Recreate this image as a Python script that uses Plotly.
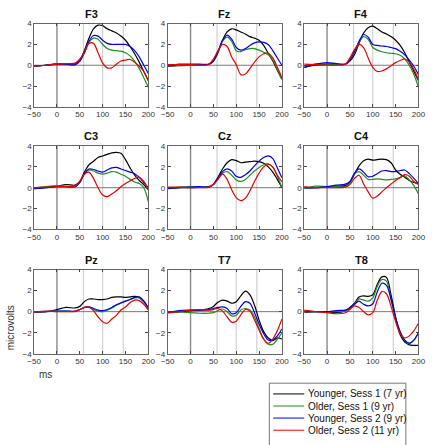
import plotly.graph_objects as go

# ---------------- data ----------------
t = [-50, -25, 0, 20, 40, 50, 60, 70, 80, 90, 100, 110, 120, 130, 140, 150, 160, 170, 180, 190, 200]

channels = ["F3", "Fz", "F4", "C3", "Cz", "C4", "Pz", "T7", "T8"]
series_names = ["Younger, Sess 1 (7 yr)", "Older, Sess 1 (9 yr)",
                "Younger, Sess 2 (9 yr)", "Older, Sess 2 (11 yr)"]
series_colors = ["#000000", "#1f8f1f", "#0000ee", "#ee0000"]

# each channel: [Younger S1, Older S1, Younger S2, Older S2]
F3 = [
    [-0.1, 0.0, 0.1, 0.1, 0.15, 0.5, 1.4, 2.6, 3.5, 3.85, 3.8, 3.5, 3.3, 3.1, 2.8, 2.4, 1.8, 1.1, 0.3, -0.6, -1.5],
    [-0.1, 0.0, 0.15, 0.1, 0.05, 0.4, 1.2, 2.2, 2.6, 2.5, 2.0, 1.6, 1.45, 1.4, 1.35, 1.2, 0.9, 0.4, -0.3, -1.2, -2.1],
    [-0.1, 0.0, 0.1, 0.1, 0.05, 0.4, 1.2, 2.3, 2.85, 2.8, 2.4, 2.1, 2.0, 2.0, 2.0, 2.0, 1.8, 1.4, 0.8, 0.0, -0.8],
    [-0.1, 0.0, 0.1, 0.15, 0.2, 0.6, 1.2, 2.1, 2.1, 1.2, 0.2, -0.25, -0.25, 0.1, 0.4, 0.5, 0.55, 0.3, -0.1, -0.6, -1.5],
]
Fz = [
    [-0.1, -0.05, 0.0, 0.0, 0.1, 0.4, 1.2, 2.4, 3.2, 3.5, 3.4, 3.2, 3.0, 2.75, 2.6, 2.4, 1.9, 1.15, 0.4, -0.5, -1.35],
    [-0.1, 0.0, 0.0, 0.0, 0.1, 0.4, 1.3, 2.3, 2.7, 2.3, 1.4, 1.3, 1.5, 1.6, 1.6, 1.45, 1.25, 1.0, 0.5, -0.4, -1.35],
    [-0.1, 0.1, 0.1, 0.1, 0.1, 0.4, 1.3, 2.4, 2.9, 2.5, 1.7, 1.45, 1.6, 1.9, 2.15, 2.25, 2.2, 2.0, 1.4, 0.7, 0.0],
    [0.05, 0.05, 0.05, 0.0, 0.1, 0.6, 1.4, 2.0, 1.8, 0.8, 0.05, -0.9, -0.85, -0.3, 0.3, 0.8, 1.1, 1.15, 0.7, -0.2, -1.2],
]
F4 = [
    [-0.2, 0.0, 0.1, 0.1, 0.1, 0.4, 1.0, 2.1, 3.1, 3.6, 3.75, 3.5, 3.2, 3.0, 2.75, 2.4, 1.9, 1.2, 0.3, -0.6, -1.5],
    [-0.1, 0.1, 0.1, 0.1, 0.1, 0.5, 1.3, 2.2, 2.75, 2.5, 1.7, 1.45, 1.3, 1.2, 1.15, 1.1, 0.95, 0.6, 0.0, -0.9, -2.1],
    [-0.2, 0.1, 0.25, 0.15, 0.1, 0.5, 1.3, 2.3, 2.95, 2.7, 2.0, 1.9, 1.85, 1.8, 1.7, 1.6, 1.35, 1.0, 0.5, -0.1, -0.9],
    [0.1, 0.05, 0.0, 0.0, 0.1, 0.7, 1.5, 2.0, 1.7, 0.7, -0.2, -0.6, -0.55, -0.35, -0.05, 0.25, 0.45, 0.6, 0.3, -0.4, -1.4],
]
C3 = [
    [-0.1, 0.0, 0.15, 0.3, 0.25, 0.6, 1.5, 2.2, 2.55, 2.9, 3.05, 3.2, 3.35, 3.4, 3.3, 2.7, 1.9, 1.2, 0.7, 0.3, -0.2],
    [-0.05, 0.1, 0.2, 0.1, 0.1, 0.5, 1.3, 1.7, 1.6, 1.4, 1.3, 1.4, 1.55, 1.5, 1.3, 1.1, 0.8, 0.55, 0.4, 0.0, -1.35],
    [-0.1, 0.0, 0.1, 0.1, 0.1, 0.5, 1.35, 1.8, 1.75, 1.6, 1.5, 1.7, 1.9, 1.95, 1.8, 1.65, 1.5, 1.35, 1.0, 0.5, 0.0],
    [0.0, 0.05, 0.1, 0.1, 0.15, 0.6, 1.3, 1.5, 0.9, 0.0, -0.7, -0.85, -0.6, -0.3, 0.1, 0.4, 0.65, 0.9, 1.0, 0.6, -0.2],
]
Cz = [
    [-0.1, 0.0, 0.0, 0.05, 0.1, 0.35, 1.0, 1.8, 2.4, 2.7, 2.6, 2.4, 2.45, 2.5, 2.55, 2.5, 2.35, 2.0, 1.5, 0.8, 0.0],
    [-0.05, 0.05, 0.1, 0.05, 0.05, 0.3, 0.9, 1.4, 1.55, 1.2, 0.75, 0.6, 0.8, 1.2, 1.6, 1.95, 2.2, 2.3, 1.95, 1.1, 0.0],
    [-0.05, 0.0, 0.05, 0.1, 0.05, 0.3, 0.9, 1.55, 1.8, 1.6, 1.1, 1.0, 1.25, 1.6, 2.1, 2.55, 2.9, 3.05, 2.8, 1.9, 0.95],
    [0.05, 0.05, 0.0, 0.0, 0.05, 0.3, 0.8, 1.3, 0.8, -0.2, -0.95, -1.25, -1.0, -0.3, 0.6, 1.4, 2.0, 2.25, 2.0, 1.2, 0.55],
]
C4 = [
    [0.0, 0.0, 0.1, 0.15, 0.2, 0.5, 1.3, 2.1, 2.6, 2.75, 2.65, 2.7, 2.75, 2.7, 2.4, 1.7, 1.3, 1.0, 0.7, 0.5, 0.4],
    [-0.1, 0.15, 0.1, 0.1, 0.1, 0.5, 1.3, 1.55, 1.2, 0.8, 0.8, 0.85, 0.8, 0.75, 0.8, 0.85, 1.0, 1.15, 0.75, 0.2, -0.6],
    [0.0, 0.0, 0.1, 0.25, 0.35, 0.6, 1.4, 1.8, 1.5, 1.05, 1.1, 1.35, 1.6, 1.65, 1.55, 1.55, 1.65, 1.7, 1.35, 0.9, 0.4],
    [0.1, 0.0, 0.0, 0.0, 0.05, 0.3, 0.9, 1.2, 0.35, -0.4, -1.0, -0.8, -0.4, 0.0, 0.35, 0.7, 0.95, 1.25, 1.1, 0.6, 0.3],
]
Pz = [
    [0.0, 0.0, 0.2, 0.4, 0.35, 0.5, 0.95, 1.2, 1.2, 1.15, 1.15, 1.2, 1.35, 1.4, 1.4, 1.35, 1.4, 1.45, 1.35, 1.0, 0.3],
    [-0.05, 0.0, 0.05, 0.05, 0.0, 0.2, 0.4, 0.4, 0.2, 0.05, 0.0, 0.15, 0.35, 0.6, 0.8, 1.0, 1.15, 1.3, 1.3, 0.9, 0.3],
    [-0.05, 0.0, 0.05, 0.05, 0.05, 0.2, 0.4, 0.45, 0.3, 0.15, 0.1, 0.2, 0.4, 0.65, 0.85, 1.0, 1.15, 1.35, 1.4, 1.0, 0.35],
    [-0.05, 0.05, 0.0, 0.0, 0.05, 0.2, 0.4, 0.45, 0.1, -0.5, -0.95, -1.1, -0.7, -0.35, 0.15, 0.45, 0.85, 1.1, 1.05, 0.7, 0.15],
]
T7 = [
    [-0.05, 0.0, 0.1, 0.15, 0.3, 0.5, 0.9, 1.1, 1.0, 0.8, 0.95, 1.5, 1.95, 1.6, 0.6, -0.8, -1.9, -2.5, -2.75, -2.5, -2.6],
    [-0.15, -0.05, -0.1, -0.15, -0.15, -0.1, 0.1, 0.25, 0.0, -0.4, -0.35, 0.15, 0.3, 0.15, -0.5, -1.6, -2.6, -3.1, -3.1, -2.6, -2.0],
    [-0.1, 0.1, 0.15, 0.15, 0.2, 0.3, 0.4, 0.45, 0.3, -0.2, -0.1, 0.5, 0.95, 0.8, -0.1, -1.2, -2.1, -2.7, -2.7, -2.3, -1.65],
    [-0.05, 0.0, 0.15, 0.2, 0.15, 0.2, 0.3, 0.05, -0.5, -1.0, -0.9, -0.3, 0.2, 0.05, -0.8, -1.75, -2.6, -3.0, -2.6, -1.8, -0.7],
]
T8 = [
    [-0.05, 0.0, 0.0, -0.1, 0.1, 0.4, 0.8, 1.4, 1.5, 1.45, 1.6, 2.6, 3.3, 3.25, 1.6, -0.5, -2.2, -2.9, -3.15, -3.2, -3.2],
    [0.1, 0.0, 0.0, 0.0, 0.05, 0.3, 0.7, 1.2, 1.1, 1.0, 1.3, 2.4, 3.05, 2.9, 1.1, -0.6, -1.9, -2.7, -3.0, -2.7, -2.0],
    [0.0, 0.0, 0.0, 0.1, 0.15, 0.35, 0.7, 1.0, 0.7, 0.55, 0.75, 1.9, 2.7, 2.5, 1.2, -0.6, -1.9, -2.7, -3.0, -2.7, -2.0],
    [0.15, 0.0, -0.1, -0.2, -0.1, 0.2, 0.55, 0.4, 0.0, -0.3, -0.1, 1.1, 1.9, 1.7, 0.5, -0.95, -2.1, -2.5, -2.3, -1.8, -1.1],
]
channel_data = [F3, Fz, F4, C3, Cz, C4, Pz, T7, T8]

x_ticks = [-50, 0, 50, 100, 150, 200]
y_ticks = [-4, -2, 0, 2, 4]
ref_lines = [58, 100, 145]

# ---------------- layout geometry (pixels) ----------------
W, H = 439, 445
cols = [(28, 146), (166, 284), (307, 425)]
rows = [(20, 105), (145, 230), (271, 357)]
FONT = "Liberation Sans, Arial, Helvetica, sans-serif"


def px_x(x):
    return x / W


def px_y(y):
    return 1 - y / H


fig = go.Figure()
layout = dict(
    width=W, height=H, margin=dict(l=0, r=0, t=0, b=0),
    paper_bgcolor="white", plot_bgcolor="white",
    font=dict(family=FONT, size=8, color="#333333"),
    showlegend=False,
)
shapes = []
annotations = []

for i, (ch, data) in enumerate(zip(channels, channel_data)):
    r, c = divmod(i, 3)
    idx = i + 1
    xa = "x" if idx == 1 else f"x{idx}"
    ya = "y" if idx == 1 else f"y{idx}"
    x0, x1 = cols[c]
    y0, y1 = rows[r]
    axis_style = dict(
        ticks="inside", ticklen=3, tickwidth=0.8, tickcolor="#444444",
        showline=True, linecolor="#666666", linewidth=0.8, mirror="ticks",
        showgrid=False, zeroline=False, fixedrange=True,
        tickfont=dict(family=FONT, size=8, color="#333333"),
    )
    layout["xaxis" if idx == 1 else f"xaxis{idx}"] = dict(
        domain=[px_x(x0), px_x(x1)], range=[-50, 200], tickvals=x_ticks,
        anchor=ya, **axis_style)
    layout["yaxis" if idx == 1 else f"yaxis{idx}"] = dict(
        domain=[px_y(y1), px_y(y0)], range=[-4, 4], tickvals=y_ticks,
        anchor=xa, **axis_style)

    # reference lines
    for rl in ref_lines:
        shapes.append(dict(type="line", xref=xa, yref=ya, x0=rl, x1=rl, y0=-4, y1=4,
                           line=dict(color="#d0d0d0", width=1.2), layer="below"))
    shapes.append(dict(type="line", xref=xa, yref=ya, x0=0, x1=0, y0=-4, y1=4,
                       line=dict(color="#8a8a8a", width=1.4), layer="below"))
    shapes.append(dict(type="line", xref=xa, yref=ya, x0=-50, x1=200, y0=0, y1=0,
                       line=dict(color="#6a6a6a", width=0.9), layer="below"))

    for name, col, vals in zip(series_names, series_colors, data):
        fig.add_trace(go.Scatter(
            x=t, y=vals, mode="lines", name=name, xaxis=xa, yaxis=ya,
            line=dict(color=col, width=1.2, shape="spline", smoothing=0.9),
            showlegend=False, hoverinfo="skip"))

    annotations.append(dict(
        text=f"<b>{ch}</b>", x=px_x((x0 + x1) / 2), y=px_y(y0 - 10),
        xref="paper", yref="paper", showarrow=False, xanchor="center", yanchor="middle",
        font=dict(family=FONT, size=11, color="#111111")))

# axis labels
annotations.append(dict(text="microvolts", x=px_x(3), y=px_y(330), xref="paper", yref="paper",
                        showarrow=False, textangle=-90, xanchor="center", yanchor="middle",
                        font=dict(family=FONT, size=10, color="#333333")))
annotations.append(dict(text="ms", x=px_x(40), y=px_y(378), xref="paper", yref="paper",
                        showarrow=False, xanchor="center", yanchor="middle",
                        font=dict(family=FONT, size=10, color="#333333")))

# legend box (drawn in paper space)
lx0, lx1, ly0, ly1 = 271, 412, 387, 452
shapes.append(dict(type="rect", xref="paper", yref="paper",
                   x0=px_x(lx0), x1=px_x(lx1), y0=px_y(ly1), y1=px_y(ly0),
                   line=dict(color="#555555", width=0.8), fillcolor="white"))
entry_y = [398, 410.3, 422.6, 435]
for name, col, ey in zip(series_names, series_colors, entry_y):
    shapes.append(dict(type="line", xref="paper", yref="paper",
                       x0=px_x(275), x1=px_x(307), y0=px_y(ey), y1=px_y(ey),
                       line=dict(color=col, width=1)))
    annotations.append(dict(text=name, x=px_x(309), y=px_y(ey), xref="paper", yref="paper",
                            showarrow=False, xanchor="left", yanchor="middle",
                            font=dict(family=FONT, size=10, color="#111111")))

layout["shapes"] = shapes
layout["annotations"] = annotations
fig.update_layout(**layout)
fig.write_html("out.html")
